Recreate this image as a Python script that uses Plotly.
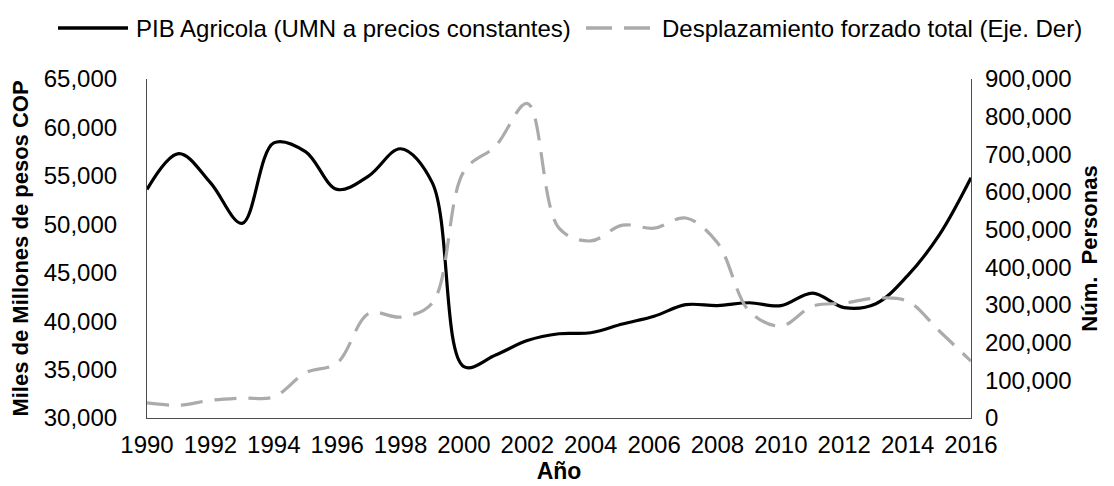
import plotly.graph_objects as go

years = list(range(1990, 2017))
pib_agricola = [53600, 57300, 54300, 50100, 58400, 57500, 53600, 55000, 57800, 54300,
                35300, 36500, 38000, 38700, 38800, 39700, 40500, 41700, 41600, 41900,
                41600, 42900, 41400, 41800, 44700, 48900, 54800]
desplazamiento = [40000, 34000, 47000, 53000, 56000, 120000, 146000, 278000, 268000, 305000,
                  655000, 722000, 835000, 504000, 470000, 512000, 504000, 531000, 465000, 284000,
                  244000, 297000, 305000, 318000, 310000, 231000, 151000]

left_ticks = list(range(30000, 65001, 5000))
right_ticks = list(range(0, 900001, 100000))
x_ticks = list(range(1990, 2017, 2))

name_pib = "PIB Agricola (UMN a precios constantes)"
name_desp = "Desplazamiento forzado total (Eje. Der)"

font = "Liberation Sans, Arial, sans-serif"
gray = "#ababab"
axis_col = "#4d4d4d"

# plot area in pixels (for legend placement in paper coords)
L, R, T, B = 139, 963, 71, 410
W, H = R - L, B - T


def px(x):
    return (x - L) / W


def py(y):
    return (B - y) / H


fig = go.Figure()
fig.add_trace(go.Scatter(
    x=years, y=pib_agricola, name=name_pib,
    mode="lines", line=dict(color="black", width=3.2, shape="spline", smoothing=1.0),
    yaxis="y", showlegend=False))
fig.add_trace(go.Scatter(
    x=years, y=desplazamiento, name=name_desp,
    mode="lines", line=dict(color=gray, width=3.2, dash="22px,12px", shape="spline", smoothing=1.0),
    yaxis="y2", showlegend=False))

# custom legend (long line samples as in the reference)
shapes = [
    dict(type="line", xref="paper", yref="paper", x0=px(50), x1=px(120), y0=py(20), y1=py(20),
         line=dict(color="black", width=3.5)),
    dict(type="line", xref="paper", yref="paper", x0=px(578), x1=px(644), y0=py(20), y1=py(20),
         line=dict(color=gray, width=3.5, dash="26px,12px")),
]
annotations = [
    dict(text=name_pib, xref="paper", yref="paper", x=px(126), y=py(21), xanchor="left",
         yanchor="middle", showarrow=False, font=dict(size=24, color="black")),
    dict(text=name_desp, xref="paper", yref="paper", x=px(652), y=py(21), xanchor="left",
         yanchor="middle", showarrow=False, font=dict(size=24, color="black")),
]

fig.update_layout(
    width=1114, height=486,
    margin=dict(l=L, r=1114 - R, t=T, b=486 - B),
    paper_bgcolor="white", plot_bgcolor="white",
    font=dict(family=font, size=24, color="black"),
    showlegend=False,
    shapes=shapes, annotations=annotations,
    xaxis=dict(range=[1990, 2016], tickvals=x_ticks, ticktext=[str(v) for v in x_ticks],
               showgrid=False, zeroline=False, showline=True, linecolor=axis_col, linewidth=1.2,
               ticks="", tickfont=dict(size=24), ticklabelstandoff=5, automargin=False,
               title=dict(text="<b>Año</b>", font=dict(size=23), standoff=5)),
    yaxis=dict(range=[30000, 65000], tickvals=left_ticks,
               ticktext=[f"{v:,}" for v in left_ticks],
               showgrid=False, zeroline=False, showline=True, linecolor=axis_col, linewidth=1.2,
               ticks="", tickfont=dict(size=24), ticklabelstandoff=24, automargin=False,
               title=dict(text="<b>Miles de Millones de pesos COP</b>", font=dict(size=22), standoff=8)),
    yaxis2=dict(range=[0, 900000], tickvals=right_ticks,
                ticktext=[f"{v:,}" for v in right_ticks],
                overlaying="y", side="right",
                showgrid=False, zeroline=False, showline=True, linecolor=axis_col, linewidth=1.2,
                ticks="", tickfont=dict(size=24), ticklabelstandoff=8, automargin=False,
                title=dict(text="<b>Núm.  Personas</b>", font=dict(size=22), standoff=10)),
)

fig.write_html("out.html")
